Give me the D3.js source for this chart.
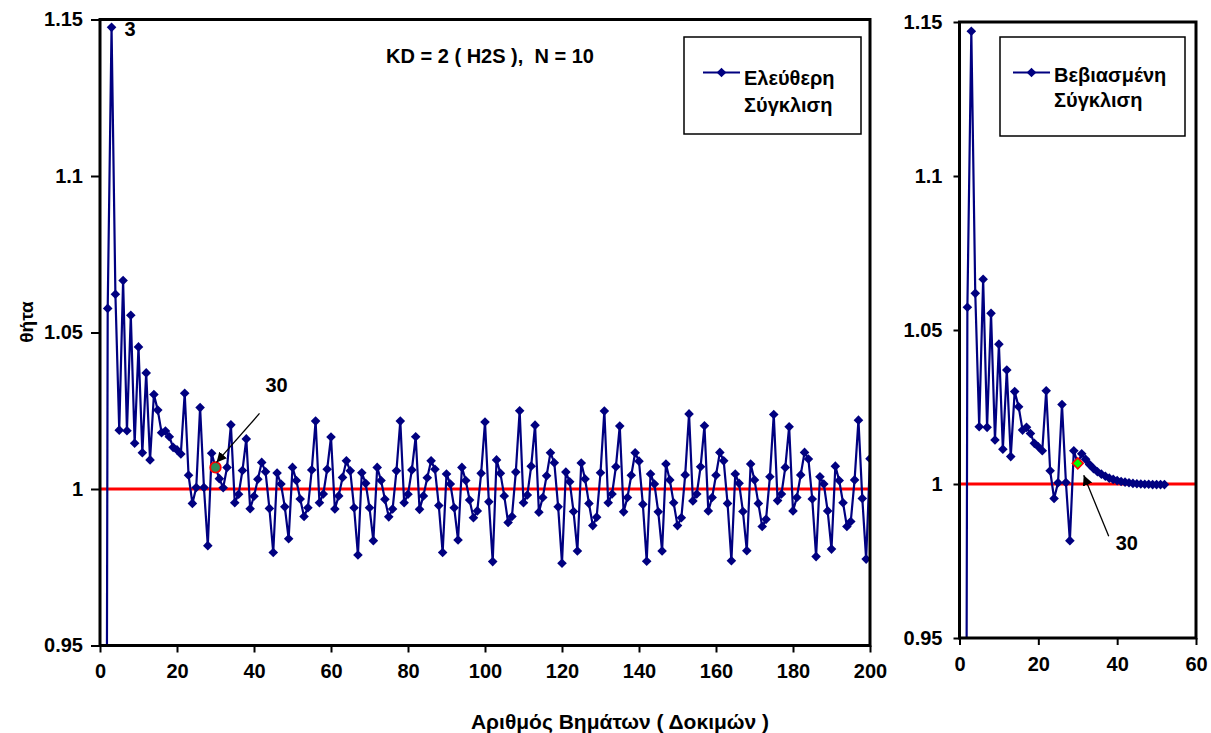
<!DOCTYPE html>
<html>
<head>
<meta charset="utf-8">
<script src="https://cdn.jsdelivr.net/npm/d3@7/dist/d3.min.js"></script>
<style>
  html, body { margin: 0; padding: 0; background: #fff; }
  svg { display: block; }
  text { font-family: "Liberation Sans", Arial, sans-serif; font-weight: bold; fill: #000; white-space: pre; }
</style>
</head>
<body>
<svg id="chart" width="1211" height="733"></svg>
<script>
// θ per step, free convergence run (steps 1..200)
const thetaFree = [
  0.5, 1.0577, 1.1475, 1.0622, 1.0188, 1.0666, 1.0186, 1.0555, 1.0146, 1.0454,
  1.0116, 1.0371, 1.0093, 1.0302, 1.0252, 1.0180, 1.0185, 1.0167, 1.0133, 1.0125,
  1.0112, 1.0306, 1.0044, 0.9954, 1.0005, 1.0260, 1.0005, 0.9819, 1.0114, 1.0069,
  1.0033, 1.0004, 1.0069, 1.0205, 0.9956, 0.9983, 1.0059, 1.0160, 0.9937, 0.9977,
  1.0031, 1.0085, 1.0055, 0.9938, 0.9797, 1.0051, 1.0016, 0.9943, 0.9841, 1.0069,
  1.0027, 0.9968, 0.9912, 0.9940, 1.0061, 1.0217, 0.9956, 0.9984, 1.0063, 1.0166,
  0.9936, 0.9978, 1.0037, 1.0090, 1.0058, 0.9940, 0.9789, 1.0052, 1.0018, 0.9940,
  0.9835, 1.0069, 1.0027, 0.9967, 0.9911, 0.9936, 1.0058, 1.0217, 0.9956, 0.9983,
  1.0061, 1.0167, 0.9935, 0.9978, 1.0036, 1.0090, 1.0063, 0.9947, 0.9797, 1.0048,
  1.0016, 0.9940, 0.9837, 1.0069, 1.0027, 0.9965, 0.9908, 0.9930, 1.0050, 1.0214,
  0.9959, 0.9768, 1.0093, 1.0050, 0.9978, 0.9893, 0.9912, 1.0054, 1.0250, 0.9956,
  0.9981, 1.0073, 1.0204, 0.9926, 0.9973, 1.0042, 1.0116, 1.0084, 0.9943, 0.9763,
  1.0054, 1.0023, 0.9928, 0.9802, 1.0083, 1.0032, 0.9954, 0.9883, 0.9910, 1.0052,
  1.0249, 0.9956, 0.9984, 1.0071, 1.0201, 0.9927, 0.9973, 1.0044, 1.0116, 1.0089,
  0.9951, 0.9769, 1.0048, 1.0016, 0.9927, 0.9802, 1.0080, 1.0029, 0.9956, 0.9883,
  0.9908, 1.0045, 1.0240, 0.9962, 0.9984, 1.0071, 1.0202, 0.9930, 0.9973, 1.0044,
  1.0117, 1.0090, 0.9954, 0.9771, 1.0048, 1.0018, 0.9928, 0.9803, 1.0080, 1.0029,
  0.9954, 0.9880, 0.9903, 1.0039, 1.0238, 0.9963, 0.9984, 1.0069, 1.0199, 0.9930,
  0.9973, 1.0045, 1.0117, 1.0096, 0.9968, 0.9784, 1.0039, 1.0016, 0.9930, 0.9808,
  1.0073, 1.0027, 0.9956, 0.9880, 0.9896, 1.0029, 1.0220, 0.9970, 0.9776, 1.0097
];

// θ per step, forced convergence run (steps 1..52)
const thetaForced = [
  0.5, 1.0574, 1.1470, 1.0619, 1.0186, 1.0665, 1.0184, 1.0554, 1.0143, 1.0454,
  1.0113, 1.0370, 1.0089, 1.0300, 1.0251, 1.0175, 1.0184, 1.0164, 1.0132, 1.0121,
  1.0108, 1.0303, 1.0043, 0.9953, 1.0004, 1.0258, 1.0005, 0.9816, 1.0108, 1.0067,
  1.0098, 1.0080, 1.0063, 1.0050, 1.0040, 1.0032, 1.0025, 1.0019, 1.0015, 1.0011,
  1.0008, 1.0006, 1.0004, 1.0002, 1.0001, 1.0000, 0.9999, 0.9999, 0.9998, 0.9998,
  0.9998, 0.9998
];

const seriesNames = ["Ελεύθερη\nΣύγκλιση", "Βεβιασμένη\nΣύγκλιση"];
const yTicks = [0.95, 1, 1.05, 1.1, 1.15];
const xTicksFree = [0, 20, 40, 60, 80, 100, 120, 140, 160, 180, 200];
const xTicksForced = [0, 20, 40, 60];
const referenceTheta = 1;
const markedStep = 30;
const peakStep = 3;
const chartTitle = "KD = 2 ( H2S ),  N = 10";
const xTitle = "Αριθμός Βημάτων ( Δοκιμών )";
const yTitle = "θήτα";

const NAVY = "#000080";
const svg = d3.select("#chart");

const defs = svg.append("defs");
defs.append("marker")
  .attr("id", "arrowhead")
  .attr("viewBox", "0 0 10 10")
  .attr("refX", 10).attr("refY", 5)
  .attr("markerWidth", 10).attr("markerHeight", 10)
  .attr("markerUnits", "userSpaceOnUse")
  .attr("orient", "auto")
  .append("path").attr("d", "M0,0 L10,5 L0,10 z").attr("fill", "#000");

function diamond(r) {
  return `M0,${-r} L${r},0 L0,${r} L${-r},0 Z`;
}

function drawPanel(cfg) {
  const { id, values, x, y, xTicks, name, legend, yTick, yPad, xPad } = cfg;
  const g = svg.append("g");
  const [x0, x1] = x.range();
  const [y0, y1] = y.range();

  defs.append("clipPath").attr("id", "clip-" + id)
    .append("rect").attr("x", x0).attr("y", y1).attr("width", x1 - x0).attr("height", y0 - y1);

  // reference line θ = 1
  g.append("line")
    .attr("x1", x0).attr("x2", x1)
    .attr("y1", y(referenceTheta)).attr("y2", y(referenceTheta))
    .attr("stroke", "#ff0000").attr("stroke-width", 3);

  const pts = values.map((v, i) => ({ step: i + 1, v }));
  const line = d3.line().x(d => x(d.step)).y(d => y(d.v));

  const plot = g.append("g").attr("clip-path", `url(#clip-${id})`);
  plot.append("path")
    .datum(pts)
    .attr("d", line)
    .attr("fill", "none")
    .attr("stroke", NAVY)
    .attr("stroke-width", 2.2)
    .attr("stroke-linejoin", "round");

  plot.selectAll("path.pt")
    .data(pts.filter(d => d.v >= 0.95))
    .join("path")
    .attr("class", "pt")
    .attr("d", diamond(4.8))
    .attr("transform", d => `translate(${x(d.step)},${y(d.v)})`)
    .attr("fill", NAVY);

  // axes
  const yAxis = g.append("g")
    .attr("transform", `translate(${x0},0)`)
    .call(d3.axisLeft(y).tickValues(yTicks).tickFormat(d => String(d)).tickSize(yTick).tickPadding(yPad));
  const xAxis = g.append("g")
    .attr("transform", `translate(0,${y0})`)
    .call(d3.axisBottom(x).tickValues(xTicks).tickFormat(d => String(d)).tickSize(7).tickPadding(xPad));
  [yAxis, xAxis].forEach(a => {
    a.select(".domain").remove();
    a.selectAll(".tick line").attr("stroke", "#000").attr("stroke-width", 2);
    a.selectAll(".tick text").attr("font-size", 20).attr("font-weight", "bold")
      .attr("font-family", '"Liberation Sans", Arial, sans-serif');
  });

  // plot frame
  g.append("rect")
    .attr("x", x0).attr("y", y1).attr("width", x1 - x0).attr("height", y0 - y1)
    .attr("fill", "none").attr("stroke", "#000").attr("stroke-width", 3);

  // legend
  const lg = g.append("g");
  lg.append("rect")
    .attr("x", legend.x).attr("y", legend.y).attr("width", legend.w).attr("height", legend.h)
    .attr("fill", "#fff").attr("stroke", "#000").attr("stroke-width", 1.5);
  lg.append("line")
    .attr("x1", legend.x + legend.lx).attr("x2", legend.x + legend.lx + 37)
    .attr("y1", legend.y + 35.5).attr("y2", legend.y + 35.5)
    .attr("stroke", NAVY).attr("stroke-width", 2);
  lg.append("path")
    .attr("d", diamond(4.8))
    .attr("transform", `translate(${legend.x + legend.lx + 18.5},${legend.y + 35.5})`)
    .attr("fill", NAVY);
  const lines = name.split("\n");
  lg.selectAll("text.lg").data(lines).join("text")
    .attr("class", "lg")
    .attr("x", legend.x + legend.lx + 41)
    .attr("y", (d, i) => legend.y + legend.ty + i * legend.dy)
    .attr("font-size", 20)
    .text(d => d);

  return g;
}

// left panel: free convergence
const xFree = d3.scaleLinear().domain([0, 200]).range([100, 870]);
const yFree = d3.scaleLinear().domain([0.95, 1.15]).range([645.5, 19.5]);
const left = drawPanel({
  id: "free", values: thetaFree, x: xFree, y: yFree, xTicks: xTicksFree,
  name: seriesNames[0], yTick: 9, yPad: 8, xPad: 11,
  legend: { x: 684, y: 37, w: 177, h: 97, lx: 19, ty: 48, dy: 27 }
});

// right panel: forced convergence
const xForced = d3.scaleLinear().domain([0, 60]).range([959.5, 1196]);
const yForced = d3.scaleLinear().domain([0.95, 1.15]).range([638, 22]);
const right = drawPanel({
  id: "forced", values: thetaForced, x: xForced, y: yForced, xTicks: xTicksForced,
  name: seriesNames[1], yTick: 6, yPad: 11, xPad: 12,
  legend: { x: 1000, y: 37, w: 185, h: 99, lx: 13, ty: 45, dy: 25 }
});

// highlighted step 30 on each panel
const vFree30 = thetaFree[markedStep - 1];
left.append("circle")
  .attr("cx", xFree(markedStep)).attr("cy", yFree(vFree30)).attr("r", 5.3)
  .attr("fill", "#2e8b57").attr("stroke", "#ff0000").attr("stroke-width", 1.8);
const vForced30 = thetaForced[markedStep - 1];
right.append("path")
  .attr("d", diamond(5.5))
  .attr("transform", `translate(${xForced(markedStep)},${yForced(vForced30)})`)
  .attr("fill", "#00ff00").attr("stroke", "#ff0000").attr("stroke-width", 1.5);

// annotation arrows and labels
left.append("line")
  .attr("x1", xFree(markedStep) + 44).attr("y1", yFree(vFree30) - 54)
  .attr("x2", xFree(markedStep) + 1).attr("y2", yFree(vFree30) - 5)
  .attr("stroke", "#000").attr("stroke-width", 1.3)
  .attr("marker-end", "url(#arrowhead)");
left.append("text")
  .attr("x", xFree(markedStep) + 50).attr("y", yFree(vFree30) - 75)
  .attr("font-size", 20).text(String(markedStep));

right.append("line")
  .attr("x1", xForced(markedStep) + 31).attr("y1", yForced(vForced30) + 73)
  .attr("x2", xForced(markedStep) + 6).attr("y2", yForced(vForced30) + 12)
  .attr("stroke", "#000").attr("stroke-width", 1.3)
  .attr("marker-end", "url(#arrowhead)");
right.append("text")
  .attr("x", xForced(markedStep) + 38).attr("y", yForced(vForced30) + 87)
  .attr("font-size", 20).text(String(markedStep));

left.append("text")
  .attr("x", xFree(peakStep) + 13).attr("y", yFree(thetaFree[peakStep - 1]) + 9)
  .attr("font-size", 20).text(String(peakStep));

// titles
svg.append("text")
  .attr("x", 490).attr("y", 63).attr("text-anchor", "middle")
  .attr("font-size", 20).text(chartTitle);
svg.append("text")
  .attr("x", 620).attr("y", 729).attr("text-anchor", "middle")
  .attr("font-size", 21).text(xTitle);
svg.append("text")
  .attr("transform", "translate(33,322) rotate(-90)")
  .attr("text-anchor", "middle")
  .attr("font-size", 19).text(yTitle);
</script>
</body>
</html>
